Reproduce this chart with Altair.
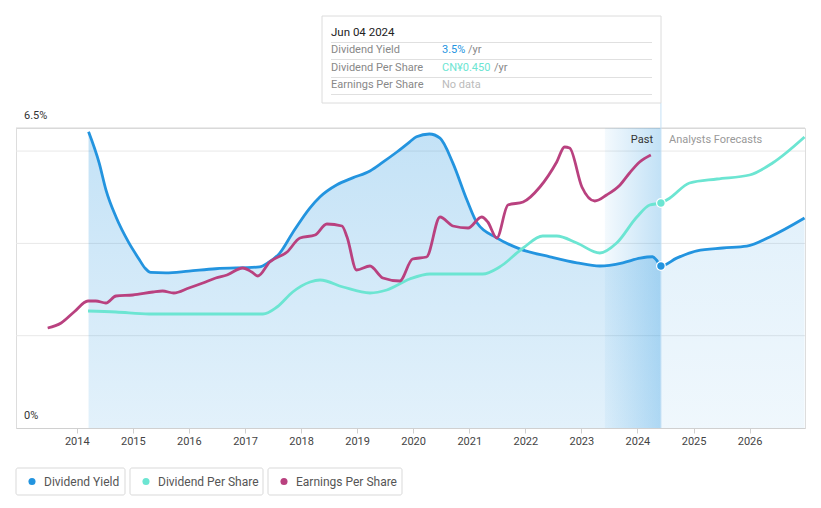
import altair as alt
import pandas as pd
from datetime import datetime, timedelta

# ---------------- data ----------------
yield_past_t = [2014.21, 2014.40, 2014.52, 2014.70, 2014.93, 2015.10, 2015.22, 2015.32, 2015.59, 2016.00, 2016.48,
                2017.26, 2017.41, 2017.62, 2017.85, 2018.16, 2018.34, 2018.64, 2018.92, 2019.23, 2019.46,
                2019.71, 2019.94, 2020.06, 2020.29, 2020.48, 2020.71, 2020.96, 2021.14, 2021.49, 2021.90,
                2022.44, 2022.92, 2023.33, 2023.74, 2024.05, 2024.27, 2024.34, 2024.42]
yield_past_v = [6.42, 5.74, 5.16, 4.57, 4.01, 3.68, 3.46, 3.37, 3.36, 3.40, 3.45,
                3.49, 3.58, 3.79, 4.23, 4.77, 5.01, 5.27, 5.42, 5.57, 5.76,
                5.98, 6.20, 6.31, 6.37, 6.28, 5.74, 4.94, 4.44, 4.12, 3.88,
                3.71, 3.58, 3.51, 3.58, 3.68, 3.71, 3.64, 3.51]
yield_fc_t = [2024.42, 2024.70, 2025.06, 2025.52, 2025.95, 2026.36, 2026.98]
yield_fc_v = [3.51, 3.68, 3.84, 3.90, 3.94, 4.14, 4.55]

dps_past_t = [2014.20, 2014.70, 2015.29, 2016.48, 2017.32, 2017.57, 2017.85, 2018.16, 2018.34, 2018.75,
              2019.23, 2019.53, 2019.94, 2020.30, 2021.24, 2021.54, 2021.96, 2022.31, 2022.56, 2022.92,
              2023.33, 2023.63, 2023.99, 2024.22, 2024.42]
dps_past_v = [0.234, 0.232, 0.228, 0.228, 0.228, 0.242, 0.272, 0.292, 0.296, 0.282,
              0.270, 0.276, 0.298, 0.308, 0.308, 0.322, 0.360, 0.384, 0.384, 0.370,
              0.350, 0.370, 0.422, 0.446, 0.450]
dps_fc_t = [2024.42, 2024.58, 2024.93, 2025.42, 2026.00, 2026.41, 2026.98]
dps_fc_v = [0.450, 0.460, 0.490, 0.498, 0.506, 0.530, 0.582]

eps_t = [2013.48, 2013.72, 2013.95, 2014.20, 2014.34, 2014.52, 2014.70, 2015.00, 2015.36, 2015.53,
         2015.73, 2016.00, 2016.25, 2016.48, 2016.68, 2016.96, 2017.12, 2017.23, 2017.44, 2017.75,
         2017.98, 2018.25, 2018.46, 2018.73, 2018.82, 2018.99, 2019.23, 2019.46, 2019.76, 2019.99,
         2020.24, 2020.48, 2020.71, 2020.98, 2021.22, 2021.33, 2021.49, 2021.69, 2021.96, 2022.26,
         2022.56, 2022.70, 2022.79, 2023.01, 2023.24, 2023.45, 2023.69, 2023.86, 2024.04, 2024.24]
eps_v = [0.200, 0.210, 0.232, 0.254, 0.254, 0.250, 0.264, 0.266, 0.272, 0.274,
         0.270, 0.280, 0.290, 0.300, 0.306, 0.320, 0.312, 0.304, 0.332, 0.352,
         0.380, 0.386, 0.408, 0.404, 0.382, 0.316, 0.324, 0.300, 0.294, 0.338,
         0.342, 0.422, 0.404, 0.400, 0.422, 0.412, 0.380, 0.446, 0.452, 0.482,
         0.532, 0.562, 0.560, 0.482, 0.454, 0.466, 0.486, 0.510, 0.532, 0.546]

year_ticks = list(range(2014, 2027))
grid_vals = [2, 4, 6]
top_val = [6.5]
y_labels = ["6.5%", "0%"]
y_label_vals = [6.5, 0]
past_start = 2023.42
now_t = 2024.42
tooltip_date = "Jun 04 2024"
tooltip_yield = "3.5%"
tooltip_dps = "CN¥0.450"
series_names = ["Dividend Yield", "Dividend Per Share", "Earnings Per Share"]

BLUE = "#2394df"
TEAL = "#6ce5d2"
MAG = "#b9417f"
FONT = "Roboto"
LW = 2.8


def to_date(t):
    y = int(t)
    return datetime(y, 1, 1) + timedelta(days=(t - y) * 365.25)


def frame(ts, vs):
    return pd.DataFrame({"date": [to_date(t) for t in ts], "v": vs})


yp = frame(yield_past_t, yield_past_v)
yf = frame(yield_fc_t, yield_fc_v)
yall = pd.concat([yp, yf.iloc[1:]], ignore_index=True)
dall = pd.concat([frame(dps_past_t, dps_past_v), frame(dps_fc_t, dps_fc_v).iloc[1:]], ignore_index=True)
ep = frame(eps_t, eps_v)
now_df = pd.DataFrame({"date": [to_date(now_t)], "y": [yield_fc_v[0]], "d": [dps_fc_v[0]]})
band_df = pd.DataFrame({"a": [to_date(past_start)], "b": [to_date(now_t)]})
one = pd.DataFrame({"k": [0]})

XS = alt.Scale(domain=[alt.DateTime(year=2012, month=12, date=1),
                       alt.DateTime(year=2026, month=12, date=28)])
XA = alt.Axis(values=[alt.DateTime(year=y, month=1, date=1) for y in year_ticks], format="%Y",
              labelFont=FONT, labelFontSize=11, labelColor="#444", tickColor="#cfcfcf", tickSize=5,
              domainColor="#d0d0d0", grid=False, title=None, labelPadding=2)
YS = alt.Scale(domain=[0, 6.5], nice=False, zero=True)
DS = alt.Scale(domain=[0, 0.6], nice=False, zero=True)


def X(field="date"):
    return alt.X(f"{field}:T", scale=XS, axis=XA)


def Y(field="v", scale=YS):
    return alt.Y(f"{field}:Q", scale=scale, axis=None)


grid = alt.Chart(pd.DataFrame({"g": grid_vals})).mark_rule(color="#e8e8e8", strokeWidth=1).encode(y=Y("g"))
topline = alt.Chart(pd.DataFrame({"g": top_val})).mark_rule(color="#d6d6d6", strokeWidth=1).encode(y=Y("g"))

area_past = alt.Chart(yp).mark_area(
    interpolate="monotone",
    color=alt.Gradient(gradient="linear", x1=0, x2=0, y1=0, y2=1,
                       stops=[alt.GradientStop(color="rgba(35,148,223,0.27)", offset=0),
                              alt.GradientStop(color="rgba(35,148,223,0.13)", offset=1)])
).encode(x=X(), y=Y())
area_fc = alt.Chart(yf).mark_area(
    interpolate="monotone",
    color=alt.Gradient(gradient="linear", x1=0, x2=0, y1=0, y2=1,
                       stops=[alt.GradientStop(color="rgba(35,148,223,0.13)", offset=0),
                              alt.GradientStop(color="rgba(35,148,223,0.07)", offset=1)])
).encode(x=X(), y=Y())

band = alt.Chart(band_df).mark_rect(
    color=alt.Gradient(gradient="linear", x1=0, x2=1, y1=0, y2=0,
                       stops=[alt.GradientStop(color="rgba(35,148,223,0.05)", offset=0),
                              alt.GradientStop(color="rgba(35,148,223,0.28)", offset=1)])
).encode(x=X("a"), x2="b:T", y=alt.value(0), y2=alt.value(300))

vline = alt.Chart(band_df).mark_rule(color="#c4e0f5", strokeWidth=1).encode(
    x=X("b"), y=alt.value(-25), y2=alt.value(300))

line_y = alt.Chart(yall).mark_line(interpolate="monotone", color=BLUE, strokeWidth=LW).encode(x=X(), y=Y())
line_d = alt.Chart(dall).mark_line(interpolate="monotone", color=TEAL, strokeWidth=LW).encode(x=X(), y=Y(scale=DS))
line_e = alt.Chart(ep).mark_line(interpolate="monotone", color=MAG, strokeWidth=LW).encode(x=X(), y=Y(scale=DS))

pt_y = alt.Chart(now_df).mark_point(filled=True, size=75, color=BLUE, stroke="white", strokeWidth=1.2, opacity=1).encode(x=X(), y=Y("y"))
pt_d = alt.Chart(now_df).mark_point(filled=True, size=75, color=TEAL, stroke="white", strokeWidth=1.2, opacity=1).encode(x=X(), y=Y("d", DS))

ylab = alt.Chart(pd.DataFrame({"t": y_labels, "v": y_label_vals})).mark_text(
    align="left", baseline="middle", dy=-12, font=FONT, fontSize=11, color="#333"
).encode(x=alt.value(8), y=Y(), text="t:N")

past_txt = alt.Chart(one).mark_text(text="Past", align="right", baseline="middle", font=FONT,
                                     fontSize=11, color="#333").encode(x=alt.value(637), y=alt.value(12))
fc_txt = alt.Chart(one).mark_text(text="Analysts Forecasts", align="left", baseline="middle", font=FONT,
                                   fontSize=11, color="#999").encode(x=alt.value(653), y=alt.value(12))

# tooltip box
tip_box = alt.Chart(one).mark_rect(fill="white", stroke="#dcdcdc", strokeWidth=1).encode(
    x=alt.value(306), x2=alt.value(645), y=alt.value(-112), y2=alt.value(-25))
seps = alt.layer(*[
    alt.Chart(one).mark_rule(color="#e0e0e0", strokeWidth=1).encode(
        x=alt.value(315), x2=alt.value(636), y=alt.value(yy), y2=alt.value(yy))
    for yy in [-85.5, -68.5, -50.5, -33.5]])


def txt(s, x, y, color, size=11, align="left"):
    return alt.Chart(one).mark_text(text=s, align=align, baseline="middle", font=FONT, fontSize=size,
                                    color=color).encode(x=alt.value(x), y=alt.value(y))


tip_txt = alt.layer(
    txt(tooltip_date, 315, -95.5, "#222", 11.5),
    txt(series_names[0], 315, -78, "#888"),
    txt(series_names[1], 315, -60.5, "#888"),
    txt(series_names[2], 315, -43, "#888"),
    txt(tooltip_yield, 426, -78, BLUE),
    txt("/yr", 452, -78, "#888"),
    txt(tooltip_dps, 426, -60.5, TEAL),
    txt("/yr", 478, -60.5, "#888"),
    txt("No data", 426, -43, "#bbb"),
)

# legend
leg_layers = []
for (x0, x1, col, name) in [(0, 109, BLUE, series_names[0]), (114, 247, TEAL, series_names[1]),
                            (252, 386, MAG, series_names[2])]:
    leg_layers.append(alt.Chart(one).mark_rect(fill="white", stroke="#d9d9d9", strokeWidth=1, cornerRadius=2).encode(
        x=alt.value(x0), x2=alt.value(x1), y=alt.value(340), y2=alt.value(367)))
    leg_layers.append(alt.Chart(one).mark_point(filled=True, size=50, color=col, opacity=1).encode(
        x=alt.value(x0 + 16), y=alt.value(353.5)))
    leg_layers.append(txt(name, x0 + 28, 353.5, "#555", 12))

chart = alt.layer(
    grid, topline, area_past, area_fc, band, vline, line_y, line_d, line_e, pt_y, pt_d,
    ylab, past_txt, fc_txt, tip_box, seps, tip_txt, *leg_layers
).resolve_scale(y="independent").properties(
    width=789, height=300,
    autosize=alt.AutoSizeParams(type="none"),
    padding={"left": 8, "top": 120, "right": 8, "bottom": 70},
).configure_view(stroke=None).configure(background="white")

chart.save("out.html", embed_options={"renderer": "svg", "actions": False})
